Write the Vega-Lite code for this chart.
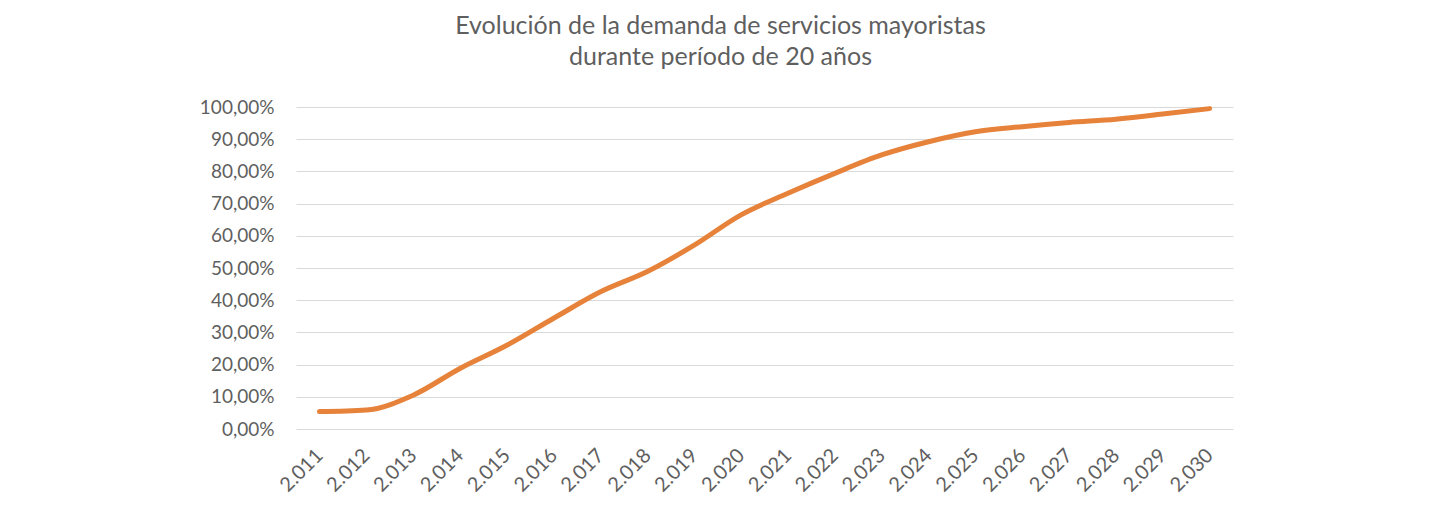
{
  "$schema": "https://vega.github.io/schema/vega-lite/v6.json",
  "width": 937,
  "height": 322,
  "autosize": {"type": "none"},
  "padding": {"left": 296, "top": 107, "right": 207, "bottom": 78},
  "background": "white",
  "title": {
    "text": ["Evolución de la demanda de servicios mayoristas", "durante período de 20 años"],
    "anchor": "middle",
    "frame": "group",
    "dx": -44,
    "offset": 28,
    "font": "Lato",
    "fontSize": 25,
    "fontWeight": "normal",
    "color": "#5F5F5F",
    "lineHeight": 31
  },
  "data": {
    "values": [
      {"anio": "2.011", "demanda": 0.054},
      {"anio": "2.012", "demanda": 0.059},
      {"anio": "2.013", "demanda": 0.105},
      {"anio": "2.014", "demanda": 0.188},
      {"anio": "2.015", "demanda": 0.26},
      {"anio": "2.016", "demanda": 0.344},
      {"anio": "2.017", "demanda": 0.426},
      {"anio": "2.018", "demanda": 0.489},
      {"anio": "2.019", "demanda": 0.571},
      {"anio": "2.020", "demanda": 0.665},
      {"anio": "2.021", "demanda": 0.732},
      {"anio": "2.022", "demanda": 0.794},
      {"anio": "2.023", "demanda": 0.851},
      {"anio": "2.024", "demanda": 0.892},
      {"anio": "2.025", "demanda": 0.923},
      {"anio": "2.026", "demanda": 0.939},
      {"anio": "2.027", "demanda": 0.952},
      {"anio": "2.028", "demanda": 0.962},
      {"anio": "2.029", "demanda": 0.978},
      {"anio": "2.030", "demanda": 0.995}
    ]
  },
  "mark": {"type": "line", "color": "#E6823A", "strokeWidth": 5, "interpolate": "monotone", "strokeCap": "round"},
  "encoding": {
    "x": {
      "field": "anio",
      "type": "ordinal",
      "sort": null,
      "scale": {"type": "point", "padding": 0.5},
      "axis": {
        "title": null,
        "domain": false,
        "ticks": false,
        "grid": false,
        "labelAngle": -45,
        "labelAlign": "right",
        "labelBaseline": "middle",
        "labelPadding": 23,
        "labelFont": "Lato",
        "labelFontSize": 20,
        "labelColor": "#5F5F5F"
      }
    },
    "y": {
      "field": "demanda",
      "type": "quantitative",
      "scale": {"domain": [0, 1], "nice": false},
      "axis": {
        "title": null,
        "values": [0, 0.1, 0.2, 0.3, 0.4, 0.5, 0.6, 0.7, 0.8, 0.9, 1],
        "labelExpr": "replace(format(datum.value, '.2%'), '.', ',')",
        "domain": false,
        "ticks": false,
        "grid": true,
        "gridColor": "#D9D9D9",
        "gridWidth": 1.2,
        "labelPadding": 22,
        "labelFont": "Lato",
        "labelFontSize": 19,
        "labelColor": "#5F5F5F"
      }
    }
  },
  "config": {"view": {"stroke": null}}
}
